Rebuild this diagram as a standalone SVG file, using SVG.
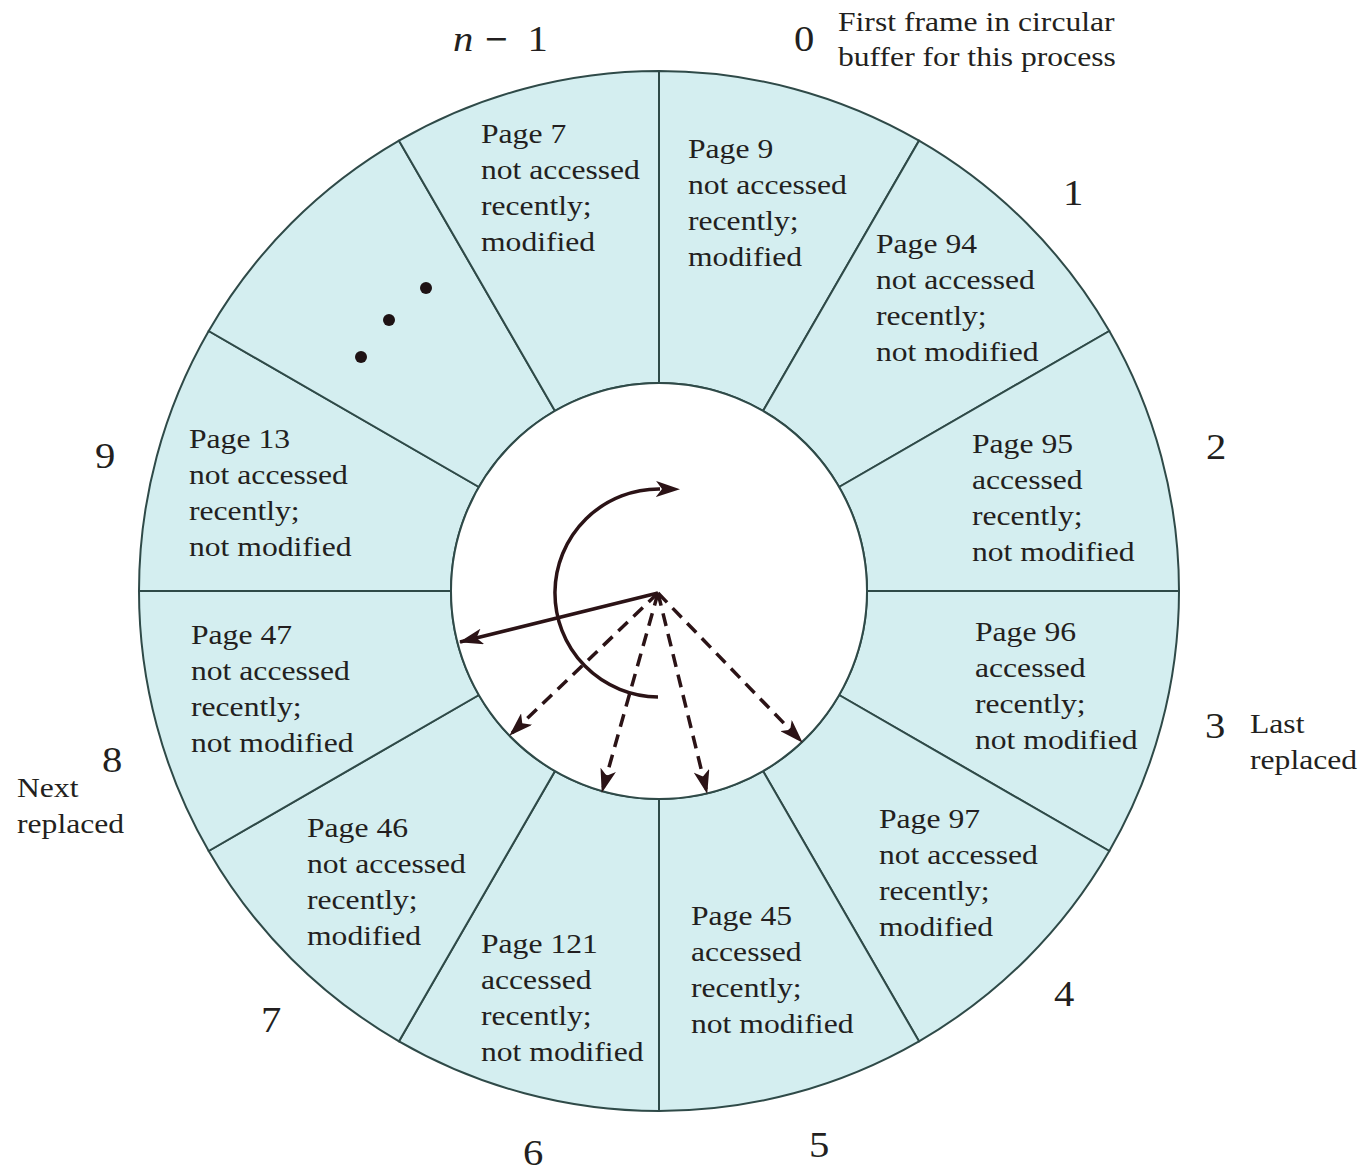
<svg xmlns="http://www.w3.org/2000/svg" width="1364" height="1173" viewBox="0 0 1364 1173">
<style>
.sec{fill:#d4eef0;stroke:#2f4a48;stroke-width:2}
.hub{fill:#ffffff;stroke:#2f4a48;stroke-width:2}
text{font-family:"Liberation Serif","Times New Roman",serif;fill:#231f20}
.t{font-size:28px}
.num{font-size:36px}
.arr{fill:none;stroke:#2b1316;stroke-width:3.5}
.dash{stroke-dasharray:13 8}
.dot{fill:#1e1214}
</style>
<defs>
<marker id="ah" viewBox="0 0 24 16" markerWidth="24" markerHeight="16" refX="23" refY="8" orient="auto" markerUnits="userSpaceOnUse">
<path d="M0,0 L24,8 L0,16 L6,8 z" fill="#2b1316"/>
</marker>
<marker id="ah2" viewBox="0 0 24 16" markerWidth="24" markerHeight="16" refX="4" refY="8" orient="auto" markerUnits="userSpaceOnUse">
<path d="M0,0 L24,8 L0,16 L6,8 z" fill="#2b1316"/>
</marker>
</defs>
<rect width="1364" height="1173" fill="#ffffff"/>

<g id="frame-0">
<path class="sec" d="M659,71 A520,520 0 0 1 919,140.7 L763,410.9 A208,208 0 0 0 659,383 Z"/>
<text class="t" transform="translate(688,158) scale(1.13,1)"><tspan x="0" y="0">Page 9</tspan><tspan x="0" y="36">not accessed</tspan><tspan x="0" y="72">recently;</tspan><tspan x="0" y="108">modified</tspan></text>
</g>
<g id="frame-1">
<path class="sec" d="M919,140.7 A520,520 0 0 1 1109.3,331 L839.1,487 A208,208 0 0 0 763,410.9 Z"/>
<text class="t" transform="translate(876,253) scale(1.13,1)"><tspan x="0" y="0">Page 94</tspan><tspan x="0" y="36">not accessed</tspan><tspan x="0" y="72">recently;</tspan><tspan x="0" y="108">not modified</tspan></text>
</g>
<g id="frame-2">
<path class="sec" d="M1109.3,331 A520,520 0 0 1 1179,591 L867,591 A208,208 0 0 0 839.1,487 Z"/>
<text class="t" transform="translate(972,453) scale(1.13,1)"><tspan x="0" y="0">Page 95</tspan><tspan x="0" y="36">accessed</tspan><tspan x="0" y="72">recently;</tspan><tspan x="0" y="108">not modified</tspan></text>
</g>
<g id="frame-3">
<path class="sec" d="M1179,591 A520,520 0 0 1 1109.3,851 L839.1,695 A208,208 0 0 0 867,591 Z"/>
<text class="t" transform="translate(975,641) scale(1.13,1)"><tspan x="0" y="0">Page 96</tspan><tspan x="0" y="36">accessed</tspan><tspan x="0" y="72">recently;</tspan><tspan x="0" y="108">not modified</tspan></text>
</g>
<g id="frame-4">
<path class="sec" d="M1109.3,851 A520,520 0 0 1 919,1041.3 L763,771.1 A208,208 0 0 0 839.1,695 Z"/>
<text class="t" transform="translate(879,828) scale(1.13,1)"><tspan x="0" y="0">Page 97</tspan><tspan x="0" y="36">not accessed</tspan><tspan x="0" y="72">recently;</tspan><tspan x="0" y="108">modified</tspan></text>
</g>
<g id="frame-5">
<path class="sec" d="M919,1041.3 A520,520 0 0 1 659,1111 L659,799 A208,208 0 0 0 763,771.1 Z"/>
<text class="t" transform="translate(691,925) scale(1.13,1)"><tspan x="0" y="0">Page 45</tspan><tspan x="0" y="36">accessed</tspan><tspan x="0" y="72">recently;</tspan><tspan x="0" y="108">not modified</tspan></text>
</g>
<g id="frame-6">
<path class="sec" d="M659,1111 A520,520 0 0 1 399,1041.3 L555,771.1 A208,208 0 0 0 659,799 Z"/>
<text class="t" transform="translate(481,953) scale(1.13,1)"><tspan x="0" y="0">Page 121</tspan><tspan x="0" y="36">accessed</tspan><tspan x="0" y="72">recently;</tspan><tspan x="0" y="108">not modified</tspan></text>
</g>
<g id="frame-7">
<path class="sec" d="M399,1041.3 A520,520 0 0 1 208.7,851 L478.9,695 A208,208 0 0 0 555,771.1 Z"/>
<text class="t" transform="translate(307,837) scale(1.13,1)"><tspan x="0" y="0">Page 46</tspan><tspan x="0" y="36">not accessed</tspan><tspan x="0" y="72">recently;</tspan><tspan x="0" y="108">modified</tspan></text>
</g>
<g id="frame-8">
<path class="sec" d="M208.7,851 A520,520 0 0 1 139,591 L451,591 A208,208 0 0 0 478.9,695 Z"/>
<text class="t" transform="translate(191,644) scale(1.13,1)"><tspan x="0" y="0">Page 47</tspan><tspan x="0" y="36">not accessed</tspan><tspan x="0" y="72">recently;</tspan><tspan x="0" y="108">not modified</tspan></text>
</g>
<g id="frame-9">
<path class="sec" d="M139,591 A520,520 0 0 1 208.7,331 L478.9,487 A208,208 0 0 0 451,591 Z"/>
<text class="t" transform="translate(189,448) scale(1.13,1)"><tspan x="0" y="0">Page 13</tspan><tspan x="0" y="36">not accessed</tspan><tspan x="0" y="72">recently;</tspan><tspan x="0" y="108">not modified</tspan></text>
</g>
<g id="frame-more">
<path class="sec" d="M208.7,331 A520,520 0 0 1 399,140.7 L555,410.9 A208,208 0 0 0 478.9,487 Z"/>
<circle class="dot" cx="426" cy="288" r="6"/>
<circle class="dot" cx="389" cy="320" r="6"/>
<circle class="dot" cx="361" cy="357" r="6"/>
</g>
<g id="frame-n-1">
<path class="sec" d="M399,140.7 A520,520 0 0 1 659,71 L659,383 A208,208 0 0 0 555,410.9 Z"/>
<text class="t" transform="translate(481,143) scale(1.13,1)"><tspan x="0" y="0">Page 7</tspan><tspan x="0" y="36">not accessed</tspan><tspan x="0" y="72">recently;</tspan><tspan x="0" y="108">modified</tspan></text>
</g>
<g id="hub">
<circle class="hub" cx="659" cy="591" r="208"/>
</g>

<g id="labels">
<text class="num" transform="translate(453,51) scale(1.13,1)"><tspan x="0" y="0" font-style="italic">n</tspan><tspan x="28" y="0" font-weight="bold">−</tspan><tspan x="66" y="0">1</tspan></text>
<text class="num" transform="translate(794,51) scale(1.13,1)">0</text>
<text class="t" transform="translate(838,31) scale(1.13,1)"><tspan x="0" y="0">First frame in circular</tspan><tspan x="0" y="35">buffer for this process</tspan></text>
<text class="num" transform="translate(1063,205) scale(1.13,1)">1</text>
<text class="num" transform="translate(1206,459) scale(1.13,1)">2</text>
<text class="num" transform="translate(1205,738) scale(1.13,1)">3</text>
<text class="t" transform="translate(1250,733) scale(1.13,1)"><tspan x="0" y="0">Last</tspan><tspan x="0" y="36">replaced</tspan></text>
<text class="num" transform="translate(1054,1006) scale(1.13,1)">4</text>
<text class="num" transform="translate(809,1157) scale(1.13,1)">5</text>
<text class="num" transform="translate(523,1165) scale(1.13,1)">6</text>
<text class="num" transform="translate(261,1032) scale(1.13,1)">7</text>
<text class="num" transform="translate(102,772) scale(1.13,1)">8</text>
<text class="t" transform="translate(17,797) scale(1.13,1)"><tspan x="0" y="0">Next</tspan><tspan x="0" y="36">replaced</tspan></text>
<text class="num" transform="translate(95,468) scale(1.13,1)">9</text>
</g>

<g id="connectors">
<path class="arr" d="M658,697 A104,104 0 1 1 660,489" marker-end="url(#ah2)"/>
<line class="arr" x1="658" y1="593" x2="460" y2="642" marker-end="url(#ah)"/>
<line class="arr dash" x1="658" y1="593" x2="510" y2="735" marker-end="url(#ah)"/>
<line class="arr dash" x1="658" y1="593" x2="602" y2="792" marker-end="url(#ah)"/>
<line class="arr dash" x1="658" y1="593" x2="707" y2="793" marker-end="url(#ah)"/>
<line class="arr dash" x1="658" y1="593" x2="802" y2="742" marker-end="url(#ah)"/>
</g>
</svg>
